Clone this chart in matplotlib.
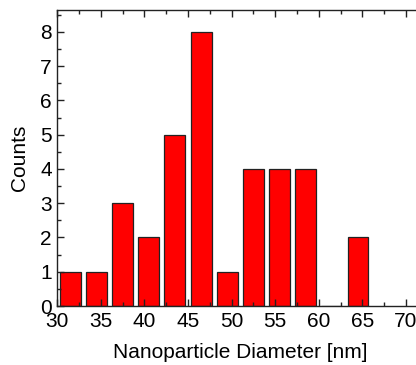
import matplotlib
matplotlib.use("Agg")
import matplotlib.pyplot as plt
from matplotlib.ticker import MultipleLocator

# =========================================================
# Data
# =========================================================

bin_centers = [31.5, 34.5, 37.5, 40.5, 43.5, 46.5, 49.5, 52.5, 55.5, 58.5, 61.5, 64.5]
counts = [1, 1, 3, 2, 5, 8, 1, 4, 4, 4, 0, 2]
bin_width = 3
x_ticks = [30, 35, 40, 45, 50, 55, 60, 65, 70]
y_ticks = [0, 1, 2, 3, 4, 5, 6, 7, 8]

# =========================================================
# Plot
# =========================================================

plt.rcParams["font.family"] = ["Liberation Sans", "DejaVu Sans"]

fig = plt.figure(figsize=(4.16, 3.65), dpi=100)
ax = fig.add_axes([0.1377, 0.1616, 0.880, 0.811])

ax.bar(bin_centers, counts, width=bin_width * 0.8, color="#ff0000",
       edgecolor="#222222", linewidth=0.9)

ax.set_xlim(30, 72)
ax.set_ylim(0, 8.64)
ax.set_xticks(x_ticks)
ax.set_yticks(y_ticks)
ax.xaxis.set_minor_locator(MultipleLocator(2.5))
ax.yaxis.set_minor_locator(MultipleLocator(0.5))

ax.tick_params(which="both", direction="in", top=True, right=False,
               width=1, color="#222222", labelsize=15, pad=4)
ax.tick_params(which="major", length=5)
ax.tick_params(which="minor", length=3)
for s in ax.spines.values():
    s.set_linewidth(1)
    s.set_color("#222222")

ax.set_xlabel("Nanoparticle Diameter [nm]", fontsize=15, labelpad=9)
ax.set_ylabel("Counts", fontsize=15, labelpad=8)

fig.savefig("out.png", dpi=100)
